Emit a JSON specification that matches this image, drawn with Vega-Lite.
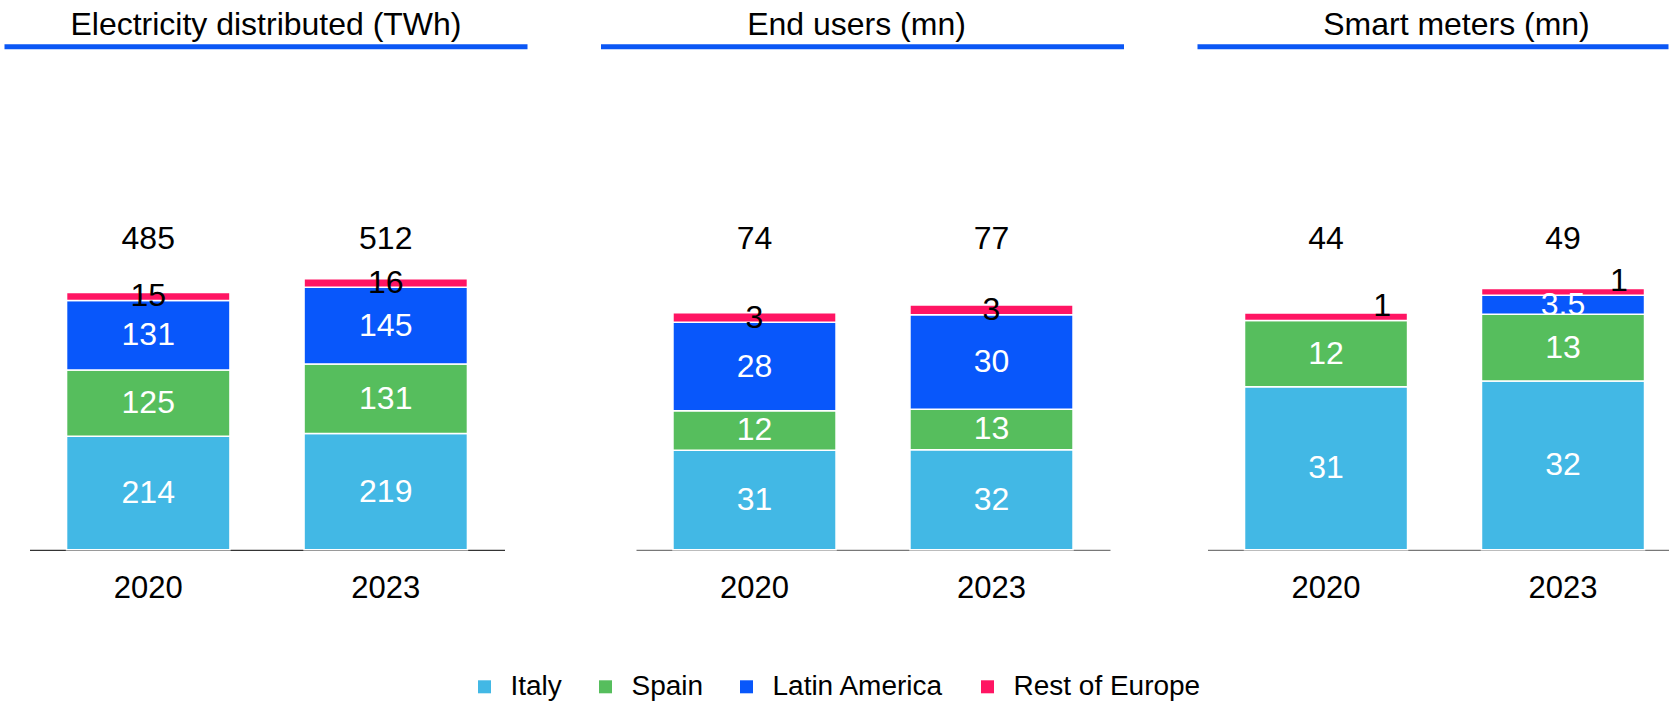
{
  "$schema": "https://vega.github.io/schema/vega-lite/v6.json",
  "padding": {"left": 1.5, "top": 8.8, "right": 0, "bottom": 0},
  "spacing": 67.5,
  "config": {"view": {"stroke": null}, "font": "Liberation Sans"},
  "datasets": {
    "seg": [
      {"panel": "p1", "year": "2020", "region": "Italy", "idx": 1, "value": 214, "label": "214"},
      {"panel": "p1", "year": "2020", "region": "Spain", "idx": 2, "value": 125, "label": "125"},
      {"panel": "p1", "year": "2020", "region": "Latin America", "idx": 3, "value": 131, "label": "131"},
      {"panel": "p1", "year": "2020", "region": "Rest of Europe", "idx": 4, "value": 15, "label": "15"},
      {"panel": "p1", "year": "2023", "region": "Italy", "idx": 1, "value": 219, "label": "219"},
      {"panel": "p1", "year": "2023", "region": "Spain", "idx": 2, "value": 131, "label": "131"},
      {"panel": "p1", "year": "2023", "region": "Latin America", "idx": 3, "value": 145, "label": "145"},
      {"panel": "p1", "year": "2023", "region": "Rest of Europe", "idx": 4, "value": 16, "label": "16"},
      {"panel": "p2", "year": "2020", "region": "Italy", "idx": 1, "value": 31.1, "label": "31"},
      {"panel": "p2", "year": "2020", "region": "Spain", "idx": 2, "value": 12.3, "label": "12"},
      {"panel": "p2", "year": "2020", "region": "Latin America", "idx": 3, "value": 27.6, "label": "28"},
      {"panel": "p2", "year": "2020", "region": "Rest of Europe", "idx": 4, "value": 3.0, "label": "3"},
      {"panel": "p2", "year": "2023", "region": "Italy", "idx": 1, "value": 31.2, "label": "32"},
      {"panel": "p2", "year": "2023", "region": "Spain", "idx": 2, "value": 12.7, "label": "13"},
      {"panel": "p2", "year": "2023", "region": "Latin America", "idx": 3, "value": 29.5, "label": "30"},
      {"panel": "p2", "year": "2023", "region": "Rest of Europe", "idx": 4, "value": 3.0, "label": "3"},
      {"panel": "p3", "year": "2020", "region": "Italy", "idx": 1, "value": 30.3, "label": "31"},
      {"panel": "p3", "year": "2020", "region": "Spain", "idx": 2, "value": 12.3, "label": "12"},
      {"panel": "p3", "year": "2020", "region": "Rest of Europe", "idx": 4, "value": 1.4, "label": "1"},
      {"panel": "p3", "year": "2023", "region": "Italy", "idx": 1, "value": 31.4, "label": "32"},
      {"panel": "p3", "year": "2023", "region": "Spain", "idx": 2, "value": 12.4, "label": "13"},
      {"panel": "p3", "year": "2023", "region": "Latin America", "idx": 3, "value": 3.5, "label": "3.5"},
      {"panel": "p3", "year": "2023", "region": "Rest of Europe", "idx": 4, "value": 1.25, "label": "1"}
    ],
    "tot": [
      {"panel": "p1", "year": "2020", "total": "485"},
      {"panel": "p1", "year": "2023", "total": "512"},
      {"panel": "p2", "year": "2020", "total": "74"},
      {"panel": "p2", "year": "2023", "total": "77"},
      {"panel": "p3", "year": "2020", "total": "44"},
      {"panel": "p3", "year": "2023", "total": "49"}
    ]
  },
  "hconcat": [
    {
      "width": 523, "height": 503,
      "title": {"text": "Electricity distributed (TWh)", "fontSize": 32, "font": "Liberation Sans", "fontWeight": "normal", "color": "black", "anchor": "middle", "baseline": "alphabetic", "offset": -23, "frame": "group"},
      "layer": [
        {
          "data": {"name": "seg"},
          "transform": [{"filter": "datum.panel === 'p1'"}],
          "mark": {"type": "bar", "stroke": "white", "strokeWidth": 1.5},
          "encoding": {
            "x": {"field": "year", "type": "nominal", "scale": {"range": [25, 500], "paddingInner": 0.312, "paddingOuter": 0.156},
                  "axis": {"title": null, "labelAngle": 0, "ticks": false, "domainColor": "#000", "domainWidth": 1, "labelFontSize": 31, "labelFont": "Liberation Sans", "labelColor": "#000", "labelPadding": 24, "grid": false}},
            "y": {"field": "value", "type": "quantitative", "stack": "zero", "scale": {"domain": [0, 948], "nice": false}, "axis": null},
            "color": {"field": "region", "type": "nominal",
                      "scale": {"domain": ["Italy", "Spain", "Latin America", "Rest of Europe"], "range": ["#42B8E5", "#56BE5D", "#0857FB", "#FF1563"]},
                      "legend": {"orient": "none", "legendX": 466, "legendY": 626, "direction": "horizontal", "title": null, "symbolType": "square", "symbolSize": 169, "symbolStrokeWidth": 0, "labelFontSize": 28, "labelFont": "Liberation Sans", "labelColor": "black", "columnPadding": 29, "labelOffset": 12, "labelLimit": 400, "padding": 0}},
            "order": {"field": "idx", "type": "quantitative"}
          }
        },
        {
          "data": {"name": "seg"},
          "transform": [{"filter": "datum.panel === 'p1'"}],
          "mark": {"type": "text", "fontSize": 32, "font": "Liberation Sans", "baseline": "middle", "align": "center"},
          "encoding": {
            "x": {"field": "year", "type": "nominal"},
            "y": {"field": "value", "type": "quantitative", "stack": "zero", "bandPosition": 0.5},
            "detail": {"field": "region"},
            "order": {"field": "idx", "type": "quantitative"},
            "text": {"field": "label"},
            "color": {"condition": {"test": "datum.region === 'Rest of Europe'", "value": "black"}, "value": "white"}
          }
        },
        {
          "data": {"name": "tot"},
          "transform": [{"filter": "datum.panel === 'p1'"}],
          "mark": {"type": "text", "fontSize": 32, "font": "Liberation Sans", "baseline": "middle", "align": "center", "color": "black"},
          "encoding": {
            "x": {"field": "year", "type": "nominal"},
            "y": {"datum": 585, "type": "quantitative"},
            "text": {"field": "total"}
          }
        },
        {
          "data": {"values": [{}]},
          "mark": {"type": "rule", "color": "#0B57F5", "strokeWidth": 5},
          "encoding": {"y": {"datum": 948, "type": "quantitative"}}
        }
      ]
    },
    {
      "width": 523, "height": 503,
      "title": {"text": "End users (mn)", "fontSize": 32, "font": "Liberation Sans", "fontWeight": "normal", "color": "black", "anchor": "middle", "baseline": "alphabetic", "offset": -23, "frame": "group", "dx": -6},
      "layer": [
        {
          "data": {"name": "seg"},
          "transform": [{"filter": "datum.panel === 'p2'"}],
          "mark": {"type": "bar", "stroke": "white", "strokeWidth": 1.5},
          "encoding": {
            "x": {"field": "year", "type": "nominal", "scale": {"range": [35, 509], "paddingInner": 0.312, "paddingOuter": 0.156},
                  "axis": {"title": null, "labelAngle": 0, "ticks": false, "domainColor": "#555", "domainWidth": 1, "labelFontSize": 31, "labelFont": "Liberation Sans", "labelColor": "#000", "labelPadding": 24, "grid": false}},
            "y": {"field": "value", "type": "quantitative", "stack": "zero", "scale": {"domain": [0, 157], "nice": false}, "axis": null},
            "color": {"field": "region", "type": "nominal"},
            "order": {"field": "idx", "type": "quantitative"}
          }
        },
        {
          "data": {"name": "seg"},
          "transform": [{"filter": "datum.panel === 'p2'"}],
          "mark": {"type": "text", "fontSize": 32, "font": "Liberation Sans", "baseline": "middle", "align": "center"},
          "encoding": {
            "x": {"field": "year", "type": "nominal"},
            "y": {"field": "value", "type": "quantitative", "stack": "zero", "bandPosition": 0.5},
            "detail": {"field": "region"},
            "order": {"field": "idx", "type": "quantitative"},
            "text": {"field": "label"},
            "color": {"condition": {"test": "datum.region === 'Rest of Europe'", "value": "black"}, "value": "white"}
          }
        },
        {
          "data": {"name": "tot"},
          "transform": [{"filter": "datum.panel === 'p2'"}],
          "mark": {"type": "text", "fontSize": 32, "font": "Liberation Sans", "baseline": "middle", "align": "center", "color": "black"},
          "encoding": {
            "x": {"field": "year", "type": "nominal"},
            "y": {"datum": 97, "type": "quantitative"},
            "text": {"field": "total"}
          }
        },
        {
          "data": {"values": [{}]},
          "mark": {"type": "rule", "color": "#0B57F5", "strokeWidth": 5},
          "encoding": {"y": {"datum": 157, "type": "quantitative"}}
        }
      ]
    },
    {
      "width": 471, "height": 503,
      "title": {"text": "Smart meters (mn)", "fontSize": 32, "font": "Liberation Sans", "fontWeight": "normal", "color": "black", "anchor": "middle", "baseline": "alphabetic", "offset": -23, "frame": "group", "dx": 23.5},
      "layer": [
        {
          "data": {"name": "seg"},
          "transform": [{"filter": "datum.panel === 'p3'"}],
          "mark": {"type": "bar", "stroke": "white", "strokeWidth": 1.5},
          "encoding": {
            "x": {"field": "year", "type": "nominal", "scale": {"range": [10, 471], "paddingInner": 0.312, "paddingOuter": 0.1287, "align": 0.607},
                  "axis": {"title": null, "labelAngle": 0, "ticks": false, "domainColor": "#555", "domainWidth": 1, "labelFontSize": 31, "labelFont": "Liberation Sans", "labelColor": "#000", "labelPadding": 24, "grid": false}},
            "y": {"field": "value", "type": "quantitative", "stack": "zero", "scale": {"domain": [0, 93.5], "nice": false}, "axis": null},
            "color": {"field": "region", "type": "nominal"},
            "order": {"field": "idx", "type": "quantitative"}
          }
        },
        {
          "data": {"name": "seg"},
          "transform": [{"filter": "datum.panel === 'p3'"}],
          "mark": {"type": "text", "fontSize": 32, "font": "Liberation Sans", "baseline": "middle", "align": "center", "color": "white"},
          "encoding": {
            "x": {"field": "year", "type": "nominal"},
            "y": {"field": "value", "type": "quantitative", "stack": "zero", "bandPosition": 0.5},
            "detail": {"field": "region"},
            "order": {"field": "idx", "type": "quantitative"},
            "text": {"condition": {"test": "datum.region === 'Rest of Europe'", "value": ""}, "field": "label"}
          }
        },
        {
          "data": {"name": "seg"},
          "transform": [{"filter": "datum.panel === 'p3'"}],
          "mark": {"type": "text", "fontSize": 32, "font": "Liberation Sans", "baseline": "middle", "align": "center", "color": "black", "dx": 56, "dy": -11},
          "encoding": {
            "x": {"field": "year", "type": "nominal"},
            "y": {"field": "value", "type": "quantitative", "stack": "zero", "bandPosition": 0.5},
            "detail": {"field": "region"},
            "order": {"field": "idx", "type": "quantitative"},
            "text": {"condition": {"test": "datum.region === 'Rest of Europe'", "field": "label"}, "value": ""}
          }
        },
        {
          "data": {"name": "tot"},
          "transform": [{"filter": "datum.panel === 'p3'"}],
          "mark": {"type": "text", "fontSize": 32, "font": "Liberation Sans", "baseline": "middle", "align": "center", "color": "black"},
          "encoding": {
            "x": {"field": "year", "type": "nominal"},
            "y": {"datum": 57.7, "type": "quantitative"},
            "text": {"field": "total"}
          }
        },
        {
          "data": {"values": [{}]},
          "mark": {"type": "rule", "color": "#0B57F5", "strokeWidth": 5},
          "encoding": {"y": {"datum": 93.5, "type": "quantitative"}}
        }
      ]
    }
  ]
}
